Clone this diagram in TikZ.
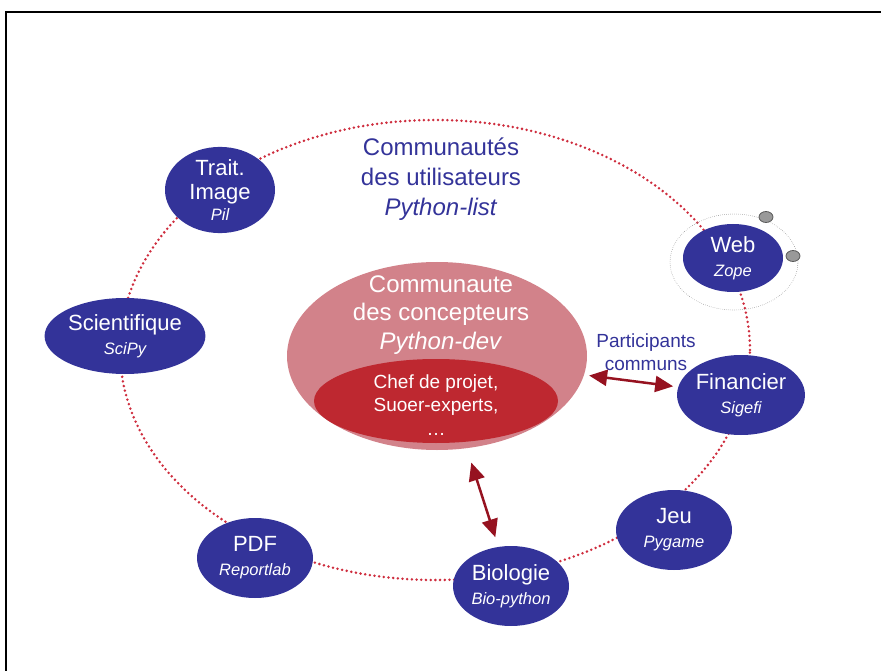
\documentclass[tikz,border=0pt]{standalone}
\usepackage{fontspec}
\setmainfont{Liberation Sans}
\usetikzlibrary{shapes.geometric,arrows.meta}
\definecolor{nodeblue}{RGB}{51,51,153}
\definecolor{ringred}{RGB}{206,45,62}
\definecolor{devpink}{RGB}{210,130,138}
\definecolor{corered}{RGB}{190,40,48}
\definecolor{arrowred}{RGB}{150,18,32}
\tikzset{
    proj/.style={ellipse, fill=nodeblue, text=white, inner sep=0pt,
        minimum width=116pt, minimum height=80pt, align=center,
        font=\fontsize{22}{24}\selectfont},
    ring/.style={ellipse, draw=ringred, line width=2.8pt, line cap=round,
        dash pattern=on 0pt off 4.7pt, minimum width=630pt, minimum height=460pt},
    orbit/.style={ellipse, draw=gray, line width=0.7pt, line cap=round,
        dash pattern=on 0pt off 2pt, minimum width=128pt, minimum height=96pt},
    sat/.style={ellipse, draw=black!65, fill=black!40, line width=0.8pt,
        inner sep=0pt, minimum width=14pt, minimum height=11pt},
    link/.style={draw, color=arrowred, line width=2.5pt,
        {Triangle[length=18pt,width=16pt,fill=arrowred]}-{Triangle[length=18pt,width=16pt,fill=arrowred]}},
}
\newcommand{\projlib}[1]{{\fontsize{16.5}{18}\itshape #1}}
\begin{document}
\begin{tikzpicture}[x=1pt, y=-1pt]
    \useasboundingbox (0,0) rectangle (881,671);
    \clip (0,0) rectangle (881,671);
    \draw[line width=2.5pt] (6,12) rectangle (900,700);

    \node[ring] (users) at (435,350) {};
    \node[orbit] (orbit) at (734,262) {};

    \begin{scope}[every node/.style={proj}]
        \node[minimum width=110pt, minimum height=82pt] (image) at (220,190) {Trait.\\Image\\[-3pt]\projlib{Pil}};
        \node[minimum width=120pt, minimum height=76pt] (sci) at (125,336) {Scientifique\\\projlib{SciPy}};
        \node (pdf) at (255,558) {PDF\\\projlib{Reportlab}};
        \node (bio) at (511,586) {Biologie\\\projlib{Bio-python}};
        \node (jeu) at (674,530) {Jeu\\\projlib{Pygame}};
        \node[minimum width=114pt] (fin) at (741,395) {Financier\\\projlib{Sigefi}};
        \node[minimum width=100pt, minimum height=68pt] (web) at (733,258) {Web\\\projlib{Zope}};
    \end{scope}
    \node[sat] (sat1) at (766,217) {};
    \node[sat] (sat2) at (793,256) {};

    \node[ellipse, fill=devpink, minimum width=300pt, minimum height=188pt] (dev) at (437,356) {};
    \node[ellipse, fill=corered, text=white, minimum width=244pt, minimum height=84pt,
        inner sep=0pt] (core) at (436,401) {};

    \node[text=nodeblue, align=center, font=\fontsize{24}{30}\selectfont] (usertitle) at (441,179)
        {Communautés\\des utilisateurs\\\textit{Python-list}};
    \node[text=white, align=center, font=\fontsize{24}{28.5}\selectfont] (devtitle) at (441,315)
        {Communaute\\des concepteurs\\\textit{Python-dev}};
    \node[text=white, align=center, font=\fontsize{19}{23.5}\selectfont] (coretitle) at (436,405)
        {Chef de projet,\\Suoer-experts,\\…};
    \node[text=nodeblue, align=center, font=\fontsize{19}{23}\selectfont] (communs) at (646,352)
        {Participants\\communs};

    \path[link, shorten <=5pt, shorten >=5pt] (dev) edge (fin);
    \path[link, shorten <=15pt, shorten >=10pt] (dev) edge (bio);
\end{tikzpicture}
\end{document}
